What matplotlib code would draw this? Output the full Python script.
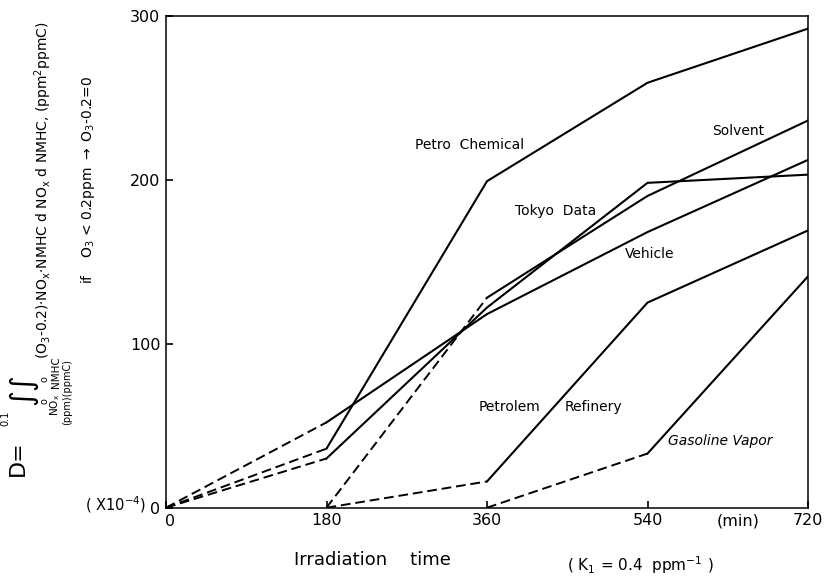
import numpy as np
import matplotlib.pyplot as plt

W, H = 825, 579

# irradiation time (min) and the integrated ozone dose D (x1e-4)
times = [0, 180, 360, 540, 720]

petro_chemical = [0, 36, 199, 259, 292]
tokyo_data = [0, 30, 122, 198, 203]
vehicle = [0, 52, 118, 168, 212]
solvent = [np.nan, 0, 128, 190, 236]
refinery = [np.nan, 0, 16, 125, 169]
gasoline = [np.nan, np.nan, 0, 33, 141]

series = [petro_chemical, tokyo_data, vehicle, solvent, refinery, gasoline]
# index of the point where the dashed part ends and the solid part begins
dash_end = [1, 1, 1, 2, 2, 3]

plt.rcParams['font.family'] = ['DejaVu Sans']
plt.rcParams['mathtext.default'] = 'regular'

fig = plt.figure(figsize=(W / 100, H / 100), dpi=100)
ax = fig.add_axes([166 / W, 1 - 507.7 / H, (808 - 166) / W, (507.7 - 15.5) / H])

t = np.array(times, dtype=float)
for vals, k in zip(series, dash_end):
    v = np.array(vals, dtype=float)
    ax.plot(t[:k + 1], v[:k + 1], color='black', lw=1.4, ls=(0, (5, 2.5)))
    ax.plot(t[k:], v[k:], color='black', lw=1.5)

ax.set_xlim(0, 720)
ax.set_ylim(0, 300)
ax.set_xticks([0, 180, 360, 540, 720])
ax.set_yticks([0, 100, 200, 300])
ax.set_xticklabels(['', '180', '360', '540', '720'])
ax.set_yticklabels(['0', '100', '200', '300'])
ax.tick_params(direction='in', length=5, width=1.2, labelsize=11.5, pad=4)
for s in ax.spines.values():
    s.set_linewidth(1.1)


def ftext(x, y, s, **kw):
    fig.text(x / W, 1 - y / H, s, **kw)


# curve labels
lab = dict(fontsize=10, ha='center', va='center')
ftext(470, 145, 'Petro  Chemical', **lab)
ftext(738, 131, 'Solvent', **lab)
ftext(556, 211, 'Tokyo  Data', **lab)
ftext(650, 254, 'Vehicle', **lab)
ftext(510, 407, 'Petrolem', **lab)
ftext(593, 407, 'Refinery', **lab)
ftext(720, 441, 'Gasoline Vapor', style='italic', **lab)

# axis annotations
ftext(738, 521, '(min)', fontsize=11.5, ha='center', va='center')
ftext(170, 521, '0', fontsize=11.5, ha='center', va='center')
ftext(116, 505, r'( X10$^{-4}$)', fontsize=10.5, ha='center', va='center')
ftext(372, 560, 'Irradiation    time', fontsize=13, ha='center', va='center')
ftext(640, 565, r'( K$_1$ = 0.4  ppm$^{-1}$ )', fontsize=11, ha='center', va='center')

# y-axis formula, written sideways
rot = dict(rotation=90, ha='center', va='center')
ftext(18, 458, 'D=', fontsize=16, **rot)
ftext(23, 389, '∫∫', fontsize=22, **rot)
ftext(5, 418, '0.1', fontsize=7, **rot)
ftext(44, 401, 'o', fontsize=7, **rot)
ftext(44, 379, 'o', fontsize=7, **rot)
ftext(55.5, 405, r'NO$_x$', fontsize=7.5, **rot)
ftext(55.5, 372, 'NMHC', fontsize=7.5, **rot)
ftext(67, 392, '(ppm)(ppmC)', fontsize=7, **rot)
ftext(43, 190, r'(O$_3$-0.2)·NO$_x$·NMHC d NO$_x$ d NMHC, (ppm$^2$ppmC)',
      fontsize=10, **rot)
ftext(88, 180, r'if    O$_3$ < 0.2ppm $\rightarrow$ O$_3$-0.2=0', fontsize=10, **rot)

fig.savefig('out.png', dpi=100)
